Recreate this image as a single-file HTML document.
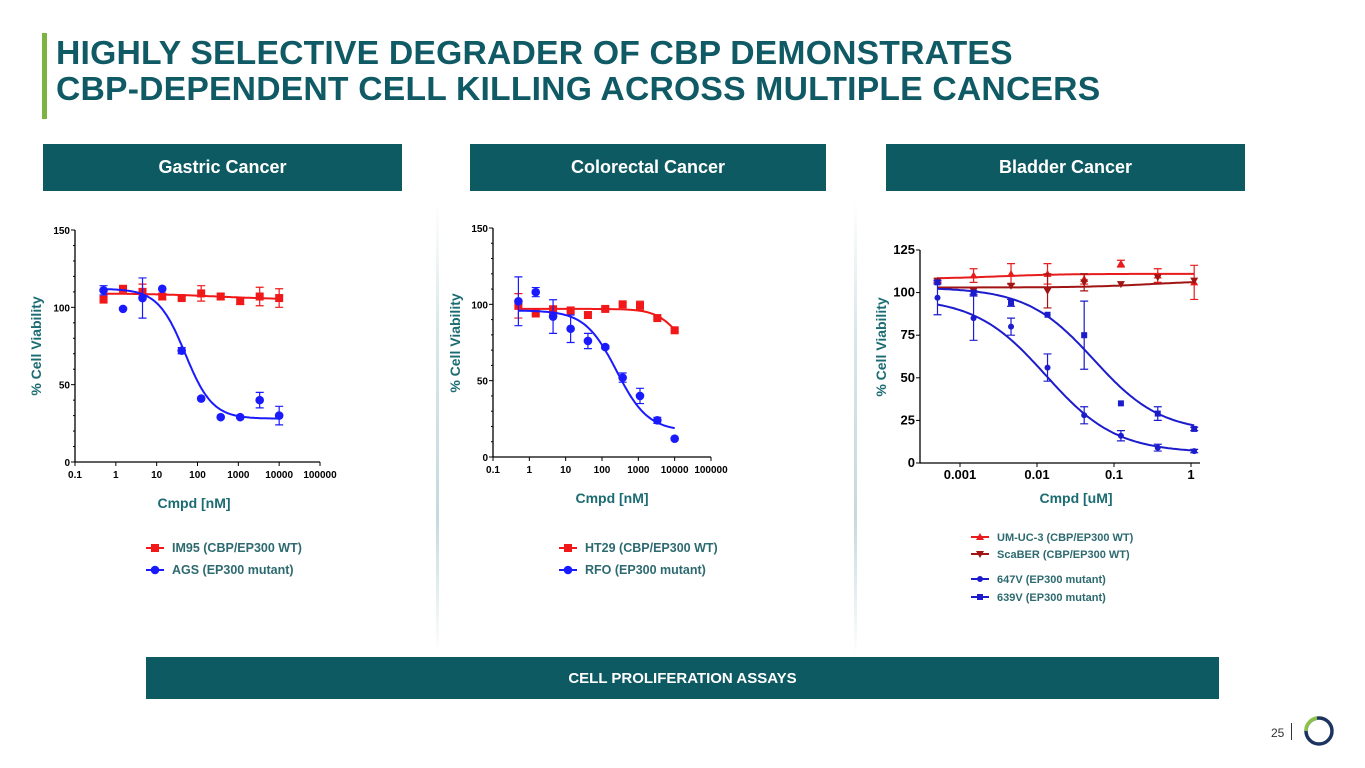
<!DOCTYPE html>
<html><head><meta charset="utf-8">
<style>
body{margin:0;width:1365px;height:768px;background:#fff;position:relative;overflow:hidden;font-family:"Liberation Sans",Arial,sans-serif}
.title{position:absolute;left:56px;top:35px;font-size:33.7px;font-weight:bold;color:#0f5a64;line-height:36px;letter-spacing:0.2px;white-space:nowrap}
.bar{position:absolute;left:42px;top:33px;width:5px;height:86px;background:#7cb342}
.tab{position:absolute;top:144px;height:47px;background:#0e5a63;color:#fff;font-weight:bold;font-size:18px;display:flex;align-items:center;justify-content:center}
.banner{position:absolute;left:146px;top:657px;width:1073px;height:42px;background:#0e5a63;color:#fff;font-weight:bold;font-size:15px;display:flex;align-items:center;justify-content:center}
.div{position:absolute;top:200px;width:3px;height:455px;background:linear-gradient(#fff,#d8e6e8 30%,#c5dadd 70%,#fff)}
svg{position:absolute;left:0;top:0}
</style></head><body>
<div class="bar"></div>
<div class="title">HIGHLY SELECTIVE DEGRADER OF CBP DEMONSTRATES<br>CBP-DEPENDENT CELL KILLING ACROSS MULTIPLE CANCERS</div>
<div class="tab" style="left:43px;width:359px">Gastric Cancer</div>
<div class="tab" style="left:470px;width:356px">Colorectal Cancer</div>
<div class="tab" style="left:886px;width:359px">Bladder Cancer</div>
<div class="div" style="left:436px"></div>
<div class="div" style="left:854px"></div>
<div class="banner">CELL PROLIFERATION ASSAYS</div>
<div style="position:absolute;left:1271px;top:726px;font-size:12px;color:#333">25</div>
<div style="position:absolute;left:1291px;top:723px;width:1px;height:17px;background:#333"></div>
<svg width="1365" height="768" id="chart">
<circle cx="1319" cy="731" r="13" fill="none" stroke="#1d3461" stroke-width="3.5"/>
<path d="M1306 731 A13 13 0 0 1 1317 718" fill="none" stroke="#8bc34a" stroke-width="3.5"/>
</svg>
<script>
// ---- Chart 1: Gastric ----
const c1X=[0.5,1.5,4.5,13.7,41,123,370,1111,3333,10000];
const c1Red=[105,112,110,107,106,109,107,104,107,106];
const c1RedErr=[2,1,5,2,1,5,2,2,6,6];
const c1Blue=[111,99,106,112,72,41,29,29,40,30];
const c1BlueErr=[3,0,13,0,2,0,0,0,5,6];
const c1RedFit=[105,109,300,0.5];
const c1BlueFit=[28,112,50,1.3];
// ---- Chart 2: Colorectal ----
const c2X=[0.5,1.5,4.5,13.7,41,123,370,1111,3333,10000];
const c2Red=[99,94,96,96,93,97,100,99,91,83];
const c2RedErr=[8,1,3,1,2,1,1,3,1,1];
const c2Blue=[102,108,92,84,76,72,52,40,24,12];
const c2BlueErr=[16,3,11,9,5,1,3,5,2,0];
const c2RedFit=[60,97,15000,1.3];
const c2BlueFit=[17,96,250,1];
const nMTicks=["0.1","1","10","100","1000","10000","100000"];
const yTicks150=[0,50,100,150];
// ---- Chart 3: Bladder ----
const c3X=[0.00051,0.0015,0.0046,0.0137,0.041,0.123,0.37,1.1];
const c3UM=[107,110,111,111,108,117,110,106];
const c3UMErr=[1,4,6,6,3,2,4,10];
const c3Sca=[107,101,104,101,106,105,109,107];
const c3ScaErr=[0,0,0,10,5,0,0,0];
const c3C647=[97,85,80,56,28,16,9,7];
const c3C647Err=[10,13,5,8,5,3,2,1];
const c3C639=[106,100,94,87,75,35,29,20];
const c3C639Err=[1,1,2,0,20,0,4,1];
const c3UMFit=[111,108,0.003,1];
const c3ScaFit=[107,103,0.3,1];
const c3C647Fit=[6,97,0.013,0.95];
const c3C639Fit=[18,103,0.055,1];
const uMTicks=["0.001","0.01","0.1","1"];
const yTicks125=[0,25,50,75,100,125];

const svg=document.getElementById('chart');
const NS='http://www.w3.org/2000/svg';
function mk(tag,attrs,name,txt){const e=document.createElementNS(NS,tag);for(const k in attrs)e.setAttribute(k,attrs[k]);


if(txt!==undefined)e.textContent=txt;svg.appendChild(e);return e;}
function logistic(p,x){return p[0]+(p[1]-p[0])/(1+Math.pow(x/p[2],p[3]));}
function marker(shape,cx,cy,col,name){
 if(shape==='sq')mk('rect',{x:cx-4,y:cy-4,width:8,height:8,fill:col},name);
 else if(shape==='ssq')mk('rect',{x:cx-3,y:cy-3,width:6,height:6,fill:col},name);
 else if(shape==='tri')mk('path',{d:`M${cx} ${cy-4}L${cx+4} ${cy+3}L${cx-4} ${cy+3}Z`,fill:col},name);
 else if(shape==='itri')mk('path',{d:`M${cx} ${cy+4}L${cx+4} ${cy-3}L${cx-4} ${cy-3}Z`,fill:col},name);
 else if(shape==='sc')mk('circle',{cx,cy,r:3,fill:col},name);
 else mk('circle',{cx,cy,r:4.3,fill:col},name);
}
function series(sx,sy,xs,ys,errs,fit,col,shape,name){
 let d='';for(let i=0;i<=120;i++){const lx=Math.log10(xs[0])+(Math.log10(xs[xs.length-1])-Math.log10(xs[0]))*i/120;const x=Math.pow(10,lx);d+=(i?'L':'M')+sx(x).toFixed(1)+' '+sy(logistic(fit,x)).toFixed(1);}
 mk('path',{d,fill:'none',stroke:col,'stroke-width':2},name+'-fit');
 xs.forEach((x,i)=>{const cx=sx(x),cy=sy(ys[i]);
  if(errs[i]>0){const t=sy(ys[i]+errs[i]),b=sy(ys[i]-errs[i]);
   mk('path',{d:`M${cx} ${t}V${b}M${cx-4} ${t}h8M${cx-4} ${b}h8`,stroke:col,'stroke-width':1.2,fill:'none'},name+'-errorbar');}
  marker(shape,cx,cy,col,name+'-point');});
}
function axes(x0,x1,y0,y1,ticksY,ymax,xTickLabels,xTickVals,sx,minorStep,fs){
 const sy=v=>y0-(y0-y1)*v/ymax;
 mk('path',{d:`M${x0} ${y1}V${y0}H${x1}`,stroke:'#000','stroke-width':1.3,fill:'none'},'axis-lines');
 for(let v=0;v<=ymax;v+=minorStep)mk('line',{x1:x0-(ticksY.includes(v)?4:2),x2:x0,y1:sy(v),y2:sy(v),stroke:'#000'},'y-tick');
 ticksY.forEach(v=>mk('text',{x:x0-5,y:sy(v)+4,'text-anchor':'end','font-size':fs,'font-weight':'bold'},'y-tick-label',v));
 xTickVals.forEach((v,i)=>{mk('line',{x1:sx(v),x2:sx(v),y1:y0,y2:y0+4,stroke:'#000'},'x-tick');
  mk('text',{x:sx(v),y:y0+16,'text-anchor':'middle','font-size':fs,'font-weight':'bold'},'x-tick-label',xTickLabels[i]);});
 return sy;
}
function ytitle(x,y,fs){mk('text',{x,y,transform:`rotate(-90 ${x} ${y})`,'text-anchor':'middle','font-size':fs,'font-weight':'bold',fill:'#1b6b72'},'y-axis-title','% Cell Viability');}
function xtitle(x,y,t){mk('text',{x,y,'text-anchor':'middle','font-size':14,'font-weight':'bold',fill:'#1b6b72'},'x-axis-title',t);}
function legend(x,y,col,shape,t,fs){mk('line',{x1:x-9,x2:x+9,y1:y,y2:y,stroke:col,'stroke-width':2},'legend-line');marker(shape,x,y,col,'legend-marker');
 mk('text',{x:x+17,y:y+4,'font-size':fs,'font-weight':'bold',fill:'#2d6a70'},'legend-entry',t);}

// chart 1
(function(){const x0=75,x1=320,sx=v=>x0+(Math.log10(v)+1)*(x1-x0)/6;
 const sy=axes(x0,x1,462,230,yTicks150,150,nMTicks,nMTicks.map(Number),sx,10,10);
 series(sx,sy,c1X,c1Red,c1RedErr,c1RedFit,'#f01818','sq','im95');
 series(sx,sy,c1X,c1Blue,c1BlueErr,c1BlueFit,'#1a1aff','c','ags');
 ytitle(41,346,14);xtitle(194,508,'Cmpd [nM]');
 legend(155,548,'#f01818','sq','IM95 (CBP/EP300 WT)',12.5);legend(155,570,'#1a1aff','c','AGS (EP300 mutant)',12.5);})();
// chart 2
(function(){const x0=493,x1=711,sx=v=>x0+(Math.log10(v)+1)*(x1-x0)/6;
 const sy=axes(x0,x1,457,228,yTicks150,150,nMTicks,nMTicks.map(Number),sx,10,10);
 series(sx,sy,c2X,c2Red,c2RedErr,c2RedFit,'#f01818','sq','ht29');
 series(sx,sy,c2X,c2Blue,c2BlueErr,c2BlueFit,'#1a1aff','c','rfo');
 ytitle(460,343,14);xtitle(612,503,'Cmpd [nM]');
 legend(568,548,'#f01818','sq','HT29 (CBP/EP300 WT)',12.5);legend(568,570,'#1a1aff','c','RFO (EP300 mutant)',12.5);})();
// chart 3
(function(){const x0=920,x1=1200,sx=v=>1191+Math.log10(v)*77;
 const sy=axes(x0,x1,463,250,yTicks125,125,uMTicks,uMTicks.map(Number),sx,25,13);
 series(sx,sy,c3X,c3UM,c3UMErr,c3UMFit,'#e81c1c','tri','um-uc-3');
 series(sx,sy,c3X,c3Sca,c3ScaErr,c3ScaFit,'#a01414','itri','scaber');
 series(sx,sy,c3X,c3C647,c3C647Err,c3C647Fit,'#1c1ccc','sc','647v');
 series(sx,sy,c3X,c3C639,c3C639Err,c3C639Fit,'#1c1ccc','ssq','639v');
 ytitle(886,347,14);xtitle(1076,503,'Cmpd [uM]');
 legend(980,537,'#e81c1c','tri','UM-UC-3 (CBP/EP300 WT)',11);legend(980,554,'#a01414','itri','ScaBER (CBP/EP300 WT)',11);
 legend(980,579,'#1c1ccc','sc','647V (EP300 mutant)',11);legend(980,597,'#1c1ccc','ssq','639V (EP300 mutant)',11);})();
</script>
</body></html>
